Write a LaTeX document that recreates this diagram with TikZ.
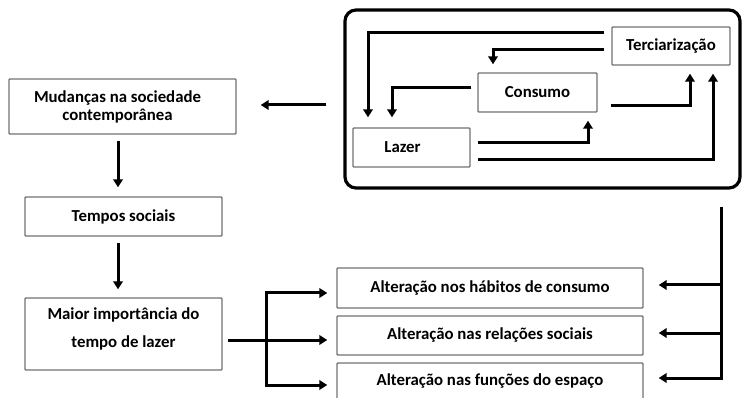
\documentclass[tikz,border=0pt]{standalone}
\usepackage{fontspec}
\setmainfont{Carlito}
\usetikzlibrary{arrows.meta,calc}
\tikzset{
  box/.style={draw=black!55, line width=1.4pt, fill=white, inner sep=0pt, align=center,
    font=\fontsize{16.8}{18}\selectfont\bfseries, text=black, rounded corners=0.8pt},
  arr/.style={line width=3pt, -{Triangle[length=8pt,width=9.5pt]}},
  grpbox/.style={draw=black, line width=3.2pt, rounded corners=11pt, inner sep=0pt}
}
\begin{document}
\begin{tikzpicture}[x=1pt,y=-1pt]
\useasboundingbox (0,0) rectangle (742,398);
\clip (0,0) rectangle (742,398);
% container
\node[grpbox, minimum width=395pt, minimum height=178pt] (grp) at (542.5,99) {};
% boxes in container
\node[box, minimum width=118pt, minimum height=38pt] (terc) at (671,46) {Terciarização};
\node[box, minimum width=119pt, minimum height=39pt] (cons) at (537.5,92.5) {Consumo};
\node[box, minimum width=117pt, minimum height=39pt] (laz) at (411.5,147.5) {\hspace*{-18pt}Lazer};
% left column
\node[box, minimum width=227pt, minimum height=55pt] (mud) at (122.5,106.5) {\hspace*{-10pt}Mudanças na sociedade\\\hspace*{-10pt}contemporânea};
\node[box, minimum width=197pt, minimum height=39pt] (temp) at (123.5,216.5) {Tempos sociais};
\node[box, minimum width=197pt, minimum height=72pt] (maior) at (123.5,334) {\raisebox{4.5pt}[\height][\depth]{\begin{tabular}{@{}c@{}}Maior importância do\\[10pt]tempo de lazer\end{tabular}}};
% consequences
\node[box, minimum width=306pt, minimum height=40pt] (alt1) at (490,288) {Alteração nos hábitos de consumo};
\node[box, minimum width=306pt, minimum height=39pt] (alt2) at (490,335.5) {Alteração nas relações sociais};
\node[box, minimum width=306pt, minimum height=37pt] (alt3) at (490,381.5) {Alteração nas funções do espaço};
% connectors inside container
\draw[arr] ($(terc.west)+(-7,-13)$) -| ($(laz.north)+(-43.5,-10)$);
\draw[arr] ($(terc.west)+(-7,4)$) -| ($(cons.north)+(-44.5,-8)$);
\draw[arr] ($(cons.west)+(-6,-4.5)$) -| ($(laz.north)+(-19.5,-10)$);
\draw[arr] ($(cons.east)+(13,13.5)$) -| ($(terc.south)+(19,8)$);
\draw[arr] ($(laz.east)+(7,-4.5)$) -| ($(cons.south)+(50.5,8)$);
\draw[arr] ($(laz.east)+(7,12.5)$) -| ($(terc.south)+(42,8)$);
% container -> mud
\coordinate (gs) at ($(grp.west)+(-17,6)$);
\coordinate (me) at ($(mud.east)+(24,-1.5)$);
\draw[arr] (gs) -- (me |- gs);
% vertical chain
\coordinate (ms) at ($(mud.south)+(-4.5,6)$);
\draw[arr] (ms) -- (ms |- {$(temp.north)+(0,-9)$});
\coordinate (ts) at ($(temp.south)+(-5.5,6)$);
\draw[arr] (ts) -- (ts |- {$(maior.north)+(0,-8)$});
% left bracket
\coordinate (mx) at ($(maior.east)+(5,6)$);
\coordinate (a1) at ($(alt1.west)+(-9,5)$);
\coordinate (a2) at ($(alt2.west)+(-9,4.5)$);
\coordinate (a3) at ($(alt3.west)+(-9,3.5)$);
\coordinate (jx) at (266,340);
\draw[arr] (mx) -- (mx -| a2);
\draw[arr] (jx |- mx) |- (a1);
\draw[arr] (jx |- mx) |- (a3);
% right bracket
\coordinate (rs) at ($(grp.south east)+(-20,17)$);
\coordinate (b1) at ($(alt1.east)+(15,-3)$);
\coordinate (b2) at ($(alt2.east)+(15,-2.5)$);
\coordinate (b3) at ($(alt3.east)+(15,-3.5)$);
\draw[arr] (rs) |- (b3);
\draw[arr] (b1 -| rs) -- (b1);
\draw[arr] (b2 -| rs) -- (b2);
\end{tikzpicture}
\end{document}
